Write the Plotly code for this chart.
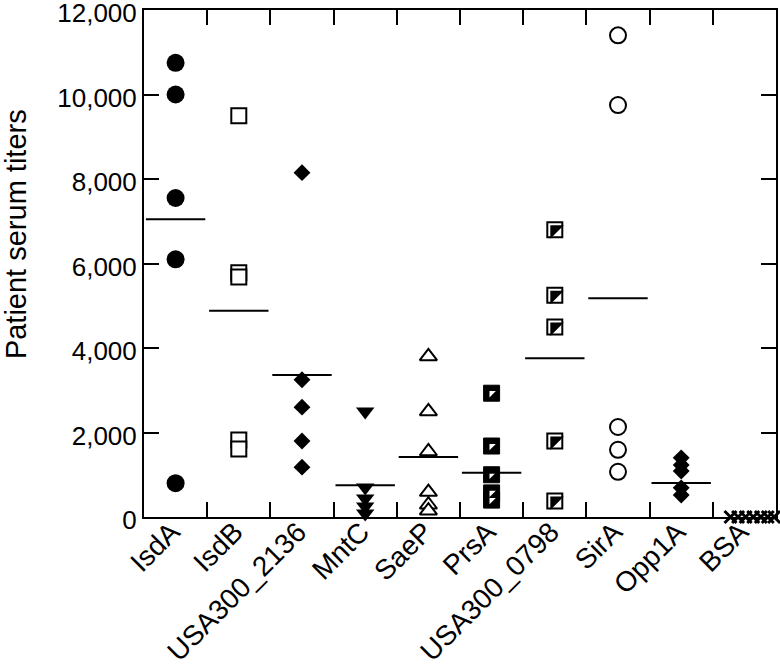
import plotly.graph_objects as go

categories = ["IsdA", "IsdB", "USA300_2136", "MntC", "SaeP", "PrsA",
              "USA300_0798", "SirA", "Opp1A", "BSA"]

isda = [10750, 10000, 7550, 6100, 800]
isdb = [9500, 5780, 5680, 1820, 1610]
usa2136 = [8150, 3250, 2600, 1800, 1180]
mntc = [2500, 700, 440, 250, 80]
saep = [3800, 2500, 1550, 590, 290, 150]
prsa = [400, 570, 1000, 1680, 2930]
usa0798 = [6800, 5250, 4500, 1800, 380]
sira = [11400, 9750, 2130, 1590, 1070]
opp1a = [1400, 1230, 1090, 690, 520]
bsa = [0, 0, 0, 0, 0, 0, 0]
bsa_spread = [-0.22, -0.1, 0.02, 0.14, 0.26, 0.37, 0.47]

means = [7050, 4880, 3360, 750, 1420, 1050, 3760, 5180, 805, None]

y_ticks = [0, 2000, 4000, 6000, 8000, 10000, 12000]

FONT = "Liberation Sans, Arial, sans-serif"

fig = go.Figure()


def idx(name):
    return categories.index(name)


def add(name, vals, symbol, size, color="black", fill="black", lw=0):
    fig.add_trace(go.Scatter(
        x=[idx(name)] * len(vals), y=vals, mode="markers",
        marker=dict(symbol=symbol, size=size, color=fill,
                    line=dict(color=color, width=lw)),
        cliponaxis=False, showlegend=False, hoverinfo="y"))


add("IsdA", isda, "circle", 18)
add("IsdB", isdb, "square", 15, fill="white", lw=2)
add("USA300_2136", usa2136, "diamond", 13)
add("MntC", mntc, "triangle-down", 16)
add("SaeP", saep, "triangle-up", 15, fill="white", lw=2)
add("PrsA", prsa, "square", 16, fill="black", lw=1)
add("PrsA", prsa, "triangle-nw", 7, fill="white", lw=0)
add("USA300_0798", usa0798, "square", 15, fill="white", lw=2)
add("USA300_0798", usa0798, "triangle-nw", 15, fill="black", lw=0)
add("SirA", sira, "circle", 16, fill="white", lw=2)
add("Opp1A", opp1a, "diamond", 13)

fig.add_trace(go.Scatter(
    x=[idx("BSA") + d for d in bsa_spread], y=bsa, mode="markers",
    marker=dict(symbol="x-thin", size=12, color="black",
                line=dict(color="black", width=3)),
    cliponaxis=False, showlegend=False, hoverinfo="y"))

# mean lines
mx, my = [], []
for i, m in enumerate(means):
    if m is None:
        continue
    mx += [i - 0.47, i + 0.47, None]
    my += [m, m, None]
fig.add_trace(go.Scatter(x=mx, y=my, mode="lines", xaxis="x2",
                         line=dict(color="black", width=2),
                         showlegend=False, hoverinfo="skip"))

fig.update_layout(
    width=780, height=668,
    margin=dict(l=144, r=4, t=10, b=151, autoexpand=False),
    paper_bgcolor="white", plot_bgcolor="white",
    font=dict(family=FONT, color="black", size=24),
    xaxis=dict(range=[-0.5, 9.5], tickvals=[i + 0.5 for i in range(9)],
               showticklabels=False, ticks="inside", ticklen=15,
               tickwidth=2, tickcolor="black", showline=True,
               linewidth=2, linecolor="black", mirror="ticks",
               showgrid=False, zeroline=False, automargin=False),
    xaxis2=dict(range=[-0.5, 9.5], overlaying="x", anchor="y",
                tickvals=list(range(len(categories))), ticktext=categories,
                tickangle=-45, ticks="", showline=False, showgrid=False,
                zeroline=False, tickfont=dict(size=28), side="bottom",
                automargin=False, ticklabeloverflow="allow",
                ticklabelstandoff=-8, ticklabelshift=-4),
    yaxis=dict(range=[0, 12000], tickvals=y_ticks, tickformat=",",
               ticks="inside", ticklen=15, tickwidth=2, tickcolor="black",
               showline=True, linewidth=2, linecolor="black",
               mirror="ticks", showgrid=False, zeroline=False,
               tickfont=dict(size=26), automargin=False,
               ticklabeloverflow="allow", ticklabelshift=3),
    annotations=[dict(text="Patient serum titers", xref="paper",
                      yref="paper", x=-0.2025, y=0.558, xanchor="center",
                      yanchor="middle", textangle=-90, showarrow=False,
                      font=dict(size=29, family=FONT, color="black"))],
)

fig.write_html("out.html", config={"displayModeBar": False},
               post_script="document.body.style.margin='0';"
                           "document.body.style.padding='0';")
